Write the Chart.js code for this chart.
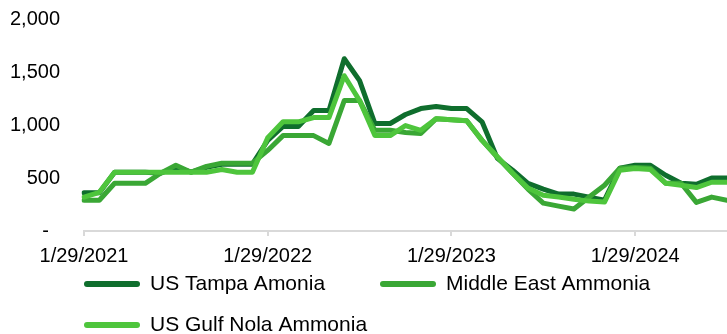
<!DOCTYPE html>
<html>
<head>
<meta charset="utf-8">
<script src="https://cdn.jsdelivr.net/npm/chart.js@4"></script>
<style>
  html, body { margin: 0; padding: 0; background: #fff; }
  #wrap { width: 727px; height: 334px; position: relative; }
</style>
</head>
<body>
<div id="wrap"><canvas id="c" width="727" height="334"></canvas></div>
<script>
const categories = [
  "1/29/2021","2/26/2021","3/29/2021","4/29/2021","5/28/2021","6/29/2021","7/29/2021","8/27/2021","9/29/2021","10/29/2021","11/29/2021","12/29/2021",
  "1/29/2022","2/28/2022","3/29/2022","4/29/2022","5/27/2022","6/29/2022","7/29/2022","8/29/2022","9/29/2022","10/28/2022","11/29/2022","12/29/2022",
  "1/29/2023","2/28/2023","3/29/2023","4/28/2023","5/29/2023","6/29/2023","7/28/2023","8/29/2023","9/29/2023","10/27/2023","11/29/2023","12/29/2023",
  "1/29/2024","2/29/2024","3/29/2024","4/29/2024","5/29/2024","6/28/2024","7/29/2024"
];
const seriesNames = ["US Tampa Amonia", "Middle East Ammonia", "US Gulf Nola Ammonia"];
const tampaValues = [
  360, 360, 555, 555, 555, 545, 600, 555, 600, 630, 630, 630,
  855, 986, 986, 1136, 1136, 1625, 1418, 1014, 1014, 1099, 1155, 1174,
  1155, 1155, 1030, 685, 573, 450, 395, 348, 348, 320, 291, 592,
  620, 620, 526, 450, 440, 500, 500
];
const middleEastValues = [
  290, 290, 450, 450, 450, 545, 620, 555, 610, 640, 640, 640,
  760, 900, 900, 900, 826, 1230, 1230, 950, 950, 930, 920, 1060,
  1050, 1040, 855, 695, 545, 395, 263, 235, 207, 320, 432, 592,
  600, 592, 450, 450, 270, 320, 290
];
const nolaValues = [
  320, 365, 555, 555, 555, 555, 555, 555, 555, 580, 555, 555,
  880, 1030, 1030, 1070, 1070, 1465, 1230, 900, 900, 995, 950, 1060,
  1050, 1040, 855, 700, 545, 405, 338, 320, 300, 282, 273, 573,
  590, 580, 450, 432, 410, 460, 460
];
const yTicks = [0, 500, 1000, 1500, 2000];
const seriesColors = ["#0f6e2d", "#3aa735", "#4ec53c"];

const FONT = '"Liberation Sans", Arial, sans-serif';

const legendPlugin = {
  id: 'customLegend',
  afterDraw(chart) {
    const ctx = chart.ctx;
    const left = chart.chartArea.left;
    const base = chart.chartArea.bottom;
    const slots = [[0, 0], [296, 0], [0, 1]];
    ctx.save();
    ctx.font = '21px ' + FONT;
    ctx.textBaseline = 'middle';
    ctx.textAlign = 'left';
    chart.data.datasets.forEach((d, i) => {
      const x = left + slots[i][0];
      const y = base + 53 + slots[i][1] * 41;
      ctx.strokeStyle = d.borderColor;
      ctx.lineWidth = 6;
      ctx.lineCap = 'round';
      ctx.beginPath();
      ctx.moveTo(x + 3, y);
      ctx.lineTo(x + 53, y);
      ctx.stroke();
      ctx.fillStyle = '#000';
      ctx.fillText(d.label, x + 66, y);
    });
    ctx.restore();
  }
};

const values = [tampaValues, middleEastValues, nolaValues];
new Chart(document.getElementById('c'), {
  type: 'line',
  data: {
    labels: categories,
    datasets: seriesNames.map((name, i) => ({
      label: name,
      data: values[i],
      borderColor: seriesColors[i],
      backgroundColor: seriesColors[i],
      borderWidth: 5,
      pointRadius: 0,
      tension: 0,
      borderJoinStyle: 'round',
      borderCapStyle: 'round',
      order: 3 - i
    }))
  },
  options: {
    responsive: false,
    animation: false,
    devicePixelRatio: 1,
    layout: { padding: { top: 19, right: 0, bottom: 63, left: 0 } },
    plugins: { legend: { display: false }, tooltip: { enabled: false } },
    scales: {
      x: {
        type: 'category',
        offset: false,
        afterBuildTicks: (s) => { s.ticks = s.ticks.filter(t => t.value % 12 === 0); },
        afterFit: (s) => { s.height = 40; },
        grid: { drawOnChartArea: false, drawTicks: true, tickLength: 5, color: '#d9d9d9', lineWidth: 2 },
        border: { display: true, color: '#d9d9d9', width: 2 },
        ticks: { autoSkip: false, maxRotation: 0, padding: 8, color: '#000', font: { family: FONT, size: 20 } }
      },
      y: {
        min: 0, max: 2000,
        afterBuildTicks: (s) => { s.ticks = yTicks.map(v => ({ value: v })); },
        afterFit: (s) => { s.width = 84; s.paddingTop = 0; s.paddingBottom = 0; },
        grid: { display: false, drawTicks: false },
        border: { display: false },
        ticks: {
          padding: 24, color: '#000', font: { family: FONT, size: 20 },
          callback: (v) => v === 0 ? '-  ' : v.toLocaleString('en-US')
        }
      }
    }
  },
  plugins: [legendPlugin]
});
</script>
</body>
</html>
